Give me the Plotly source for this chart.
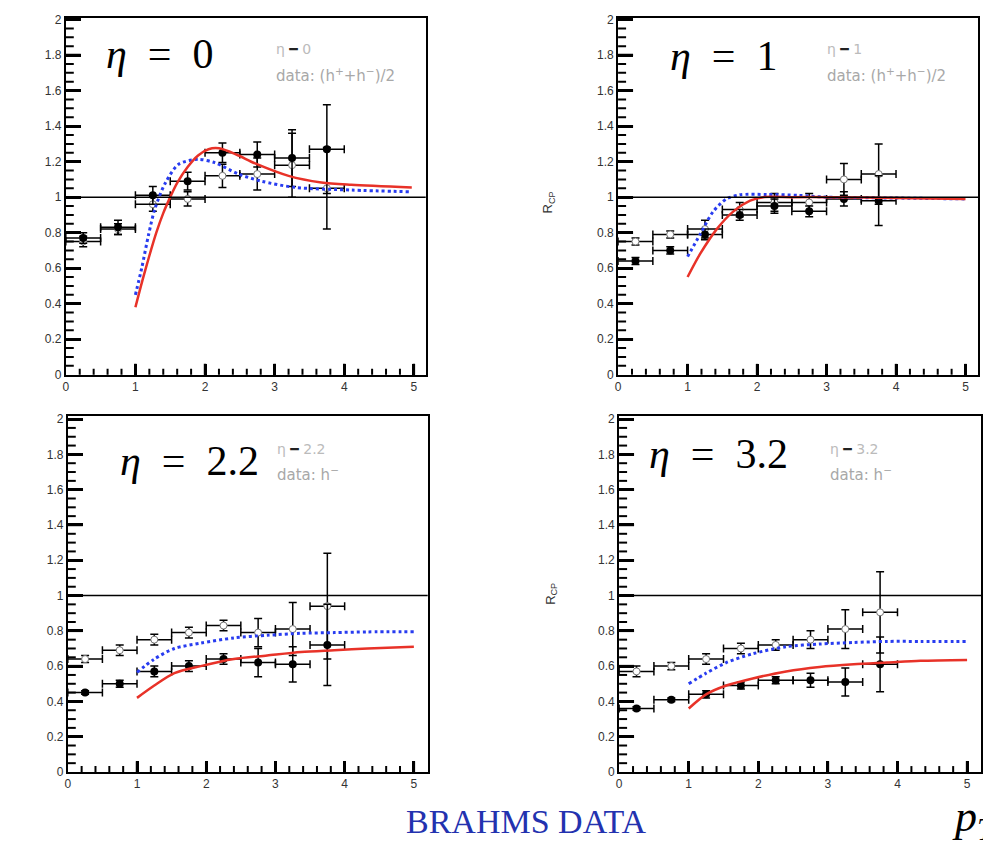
import plotly.graph_objects as go

W, H = 983, 848

# ---------------- data ----------------
pt = [0.25, 0.75, 1.25, 1.75, 2.25, 2.75, 3.25, 3.75]
pt_err = [0.25, 0.25, 0.25, 0.25, 0.25, 0.25, 0.25, 0.25]

panel_labels = ["0", "1", "2.2", "3.2"]
data_labels = ["data: (h<sup>+</sup>+h<sup>−</sup>)/2", "data: (h<sup>+</sup>+h<sup>−</sup>)/2",
               "data: h<sup>−</sup>", "data: h<sup>−</sup>"]

# central (filled) and semi-central (open) R_CP
cen_y = [
    [0.77, 0.83, 1.01, 1.09, 1.25, 1.24, 1.22, 1.27],
    [0.64, 0.70, 0.79, 0.90, 0.95, 0.92, 0.99, 0.98],
    [0.45, 0.50, 0.57, 0.60, 0.64, 0.62, 0.61, 0.72],
    [0.36, 0.41, 0.44, 0.49, 0.52, 0.52, 0.51, 0.61],
]
cen_err = [
    [0.03, 0.04, 0.05, 0.05, 0.055, 0.07, 0.16, 0.25],
    [0.02, 0.02, 0.03, 0.03, 0.04, 0.03, 0.04, 0.14],
    [0.01, 0.02, 0.03, 0.03, 0.03, 0.08, 0.10, 0.23],
    [0.01, 0.01, 0.02, 0.02, 0.02, 0.04, 0.08, 0.155],
]
semi_y = [
    [0.75, 0.82, 0.96, 0.99, 1.12, 1.13, 1.18, 1.05],
    [0.75, 0.79, 0.82, 0.93, 0.97, 0.97, 1.10, 1.13],
    [0.64, 0.69, 0.75, 0.79, 0.83, 0.79, 0.81, 0.94],
    [0.57, 0.60, 0.64, 0.70, 0.72, 0.75, 0.81, 0.905],
]
semi_err = [
    [0.03, 0.03, 0.04, 0.04, 0.065, 0.09, 0.18, 0.23],
    [0.02, 0.02, 0.05, 0.04, 0.05, 0.05, 0.09, 0.17],
    [0.02, 0.03, 0.03, 0.03, 0.03, 0.08, 0.15, 0.30],
    [0.03, 0.02, 0.03, 0.03, 0.03, 0.05, 0.11, 0.23],
]

# theory curves
red_x = [
    [1.0, 1.1, 1.2, 1.3, 1.4, 1.5, 1.6, 1.75, 1.9, 2.05, 2.2, 2.45, 2.72, 3.2, 3.67, 4.1, 4.97],
    [1.0, 1.18, 1.42, 1.66, 1.9, 2.09, 2.5, 3.0, 4.0, 5.0],
    [1.0, 1.25, 1.54, 1.92, 2.4, 2.88, 3.37, 3.85, 4.33, 5.0],
    [1.0, 1.25, 1.54, 1.92, 2.4, 2.88, 3.37, 3.85, 4.33, 5.0],
]
red_y = [
    [0.38, 0.53, 0.67, 0.80, 0.91, 1.00, 1.08, 1.17, 1.235, 1.27, 1.275, 1.24, 1.19, 1.12, 1.083, 1.07, 1.055],
    [0.55, 0.68, 0.82, 0.92, 0.98, 1.0, 1.0, 1.0, 0.995, 0.99],
    [0.42, 0.49, 0.56, 0.60, 0.64, 0.66, 0.68, 0.69, 0.70, 0.71],
    [0.36, 0.44, 0.49, 0.53, 0.57, 0.595, 0.61, 0.62, 0.63, 0.635],
]
blue_x = [
    [1.0, 1.09, 1.19, 1.28, 1.43, 1.62, 1.90, 2.14, 2.48, 2.81, 3.29, 4.1, 4.95],
    [1.0, 1.18, 1.37, 1.56, 1.75, 2.14, 2.6, 3.0, 4.0, 5.0],
    [1.0, 1.25, 1.54, 1.92, 2.4, 2.88, 3.37, 3.85, 4.33, 5.0],
    [1.0, 1.25, 1.54, 1.92, 2.4, 2.88, 3.37, 3.85, 4.33, 5.0],
]
blue_y = [
    [0.45, 0.60, 0.79, 0.935, 1.08, 1.185, 1.213, 1.194, 1.13, 1.09, 1.055, 1.04, 1.03],
    [0.665, 0.79, 0.92, 0.99, 1.013, 1.015, 1.01, 1.0, 0.995, 0.99],
    [0.565, 0.64, 0.70, 0.73, 0.76, 0.775, 0.786, 0.79, 0.794, 0.795],
    [0.50, 0.56, 0.62, 0.67, 0.71, 0.725, 0.734, 0.74, 0.74, 0.74],
]

# ---------------- layout geometry (pixels) ----------------
frames = [  # left, right, top, bottom in px
    (63, 424, 13, 375),
    (617, 978, 13, 375),
    (65, 426, 417, 778),
    (618, 981, 417, 778),
]
xmax = [5.17, 5.18, 5.2, 5.2]
ymax = [2.01, 2.01, 2.017, 2.017]
big_pos = [(157, 50), (723, 52), (187, 463), (718, 455)]
small_pos = [(272, 45), (825, 45), (273, 450), (828, 450)]
rcp_pos = [None, (547, 200), None, (550, 597)]

fig = go.Figure()
layout = dict(width=W, height=H, margin=dict(l=0, r=0, t=0, b=0),
              paper_bgcolor="white", plot_bgcolor="white", showlegend=False)
annotations = []
shapes = []

tickfont = dict(family="Liberation Sans, Arial", size=12, color="#333")


def aname(kind, n):
    return kind + "axis" + ("" if n == 1 else str(n))


def aref(kind, n):
    return kind + ("" if n == 1 else str(n))


for i in range(4):
    l, r, t, b = frames[i]
    n = i + 1
    xr, yr = aref("x", n), aref("y", n)
    xdom = [l / W, r / W]
    ydom = [1 - b / H, 1 - t / H]
    pw, ph = r - l, b - t

    layout[aname("x", n)] = dict(domain=xdom, range=[0, xmax[i]], anchor=yr,
                                 showline=True, mirror=True, linecolor="black", linewidth=2,
                                 showgrid=False, zeroline=False,
                                 ticks="inside", ticklen=11, tickwidth=2.5, tickcolor="black",
                                 dtick=1, tickfont=tickfont)
    layout[aname("y", n)] = dict(domain=ydom, range=[0, ymax[i]], anchor=xr,
                                 showline=True, mirror=True, linecolor="black", linewidth=2,
                                 showgrid=False, zeroline=False,
                                 ticks="inside", ticklen=15, tickwidth=2.5, tickcolor="black",
                                 dtick=0.2, tickfont=tickfont)

    # axis tick marks (ROOT style: inside, major + minor)
    for k in range(1, 26):          # x: every 0.2
        v = k * 0.2
        tl = 11 if k % 5 == 0 else 6
        shapes.append(dict(type="line", xref=xr, yref=f"{yr} domain", x0=v, x1=v,
                           y0=0, y1=tl / ph, layer="above",
                           line=dict(color="black", width=2.5 if k % 5 == 0 else 2)))
    for k in range(1, 40):          # y: every 0.05
        v = k * 0.05
        tl = 15 if k % 4 == 0 else 8
        shapes.append(dict(type="line", xref=f"{xr} domain", yref=yr, x0=0, x1=tl / pw,
                           y0=v, y1=v, layer="above",
                           line=dict(color="black", width=2.5 if k % 4 == 0 else 2)))

    # reference line at 1
    shapes.append(dict(type="line", xref=f"{xr} domain", yref=yr, x0=0, x1=1, y0=1, y1=1,
                       line=dict(color="black", width=1.5)))

    # open points
    fig.add_trace(go.Scatter(
        x=pt, y=semi_y[i], xaxis=xr, yaxis=yr, mode="markers",
        marker=dict(symbol="circle", size=7, color="white", line=dict(color="#777", width=1)),
        error_x=dict(type="data", array=pt_err, color="black", thickness=1.5, width=4),
        error_y=dict(type="data", array=semi_err[i], color="black", thickness=1.5, width=4)))
    # filled points
    fig.add_trace(go.Scatter(
        x=pt, y=cen_y[i], xaxis=xr, yaxis=yr, mode="markers",
        marker=dict(symbol="circle", size=8, color="black"),
        error_x=dict(type="data", array=pt_err, color="black", thickness=1.5, width=4),
        error_y=dict(type="data", array=cen_err[i], color="black", thickness=1.5, width=4)))
    # curves
    fig.add_trace(go.Scatter(
        x=blue_x[i], y=blue_y[i], xaxis=xr, yaxis=yr, mode="lines",
        line=dict(color="rgb(40,60,240)", width=3, dash="dot", shape="spline", smoothing=0.8)))
    fig.add_trace(go.Scatter(
        x=red_x[i], y=red_y[i], xaxis=xr, yaxis=yr, mode="lines",
        line=dict(color="rgb(232,50,40)", width=2.5, shape="spline", smoothing=0.8)))

    # big eta label
    bx, by = big_pos[i]
    annotations.append(dict(xref="paper", yref="paper", x=bx / W, y=1 - by / H,
                            xanchor="center", yanchor="middle", showarrow=False,
                            text=f"<i>η</i>\u2002=\u2002{panel_labels[i]}",
                            font=dict(family="Liberation Serif, DejaVu Serif", size=42, color="black")))
    # small legend text
    sx, sy = small_pos[i]
    annotations.append(dict(xref="paper", yref="paper", x=sx / W, y=1 - sy / H,
                            xanchor="left", yanchor="middle", showarrow=False,
                            text=f"<span style='color:#bbb'>η</span> <span style='color:#222'><b>━</b></span> <span style='color:#bbb'>{panel_labels[i]}</span>",
                            font=dict(family="DejaVu Sans", size=14, color="#bbb")))
    annotations.append(dict(xref="paper", yref="paper", x=sx / W, y=1 - (sy + 26) / H,
                            xanchor="left", yanchor="middle", showarrow=False,
                            text=data_labels[i],
                            font=dict(family="DejaVu Sans", size=15, color="#a8a8a8")))
    if rcp_pos[i] is not None:
        rx, ry = rcp_pos[i]
        annotations.append(dict(xref="paper", yref="paper", x=rx / W, y=1 - ry / H,
                                xanchor="center", yanchor="middle", showarrow=False,
                                textangle=-90, text="R<sub>CP</sub>",
                                font=dict(family="Liberation Sans", size=13, color="#333")))

annotations.append(dict(xref="paper", yref="paper", x=525 / W, y=1 - 828 / H,
                        xanchor="center", yanchor="middle", showarrow=False,
                        text="BRAHMS DATA",
                        font=dict(family="Liberation Serif", size=34, color="rgb(35,50,175)")))
annotations.append(dict(xref="paper", yref="paper", x=950 / W, y=1 - 826 / H,
                        xanchor="left", yanchor="middle", showarrow=False,
                        text="<i>p</i><sub><i>T</i></sub>",
                        font=dict(family="Liberation Serif", size=44, color="black")))

layout["annotations"] = annotations
layout["shapes"] = shapes
fig.update_layout(**layout)
fig.write_html("out.html")
